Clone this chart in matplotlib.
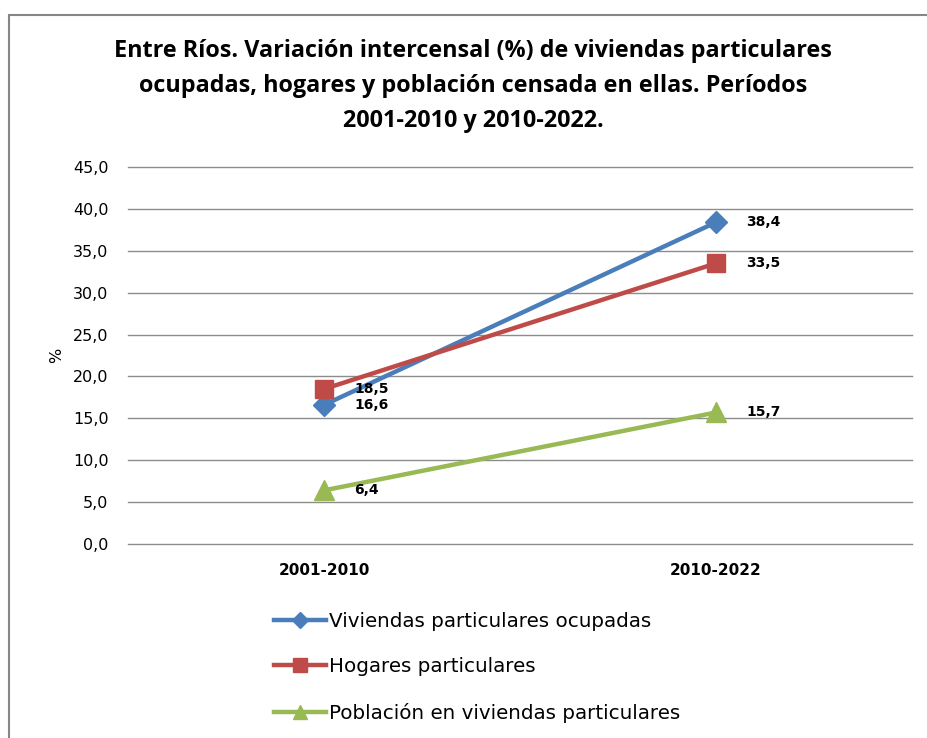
import matplotlib.pyplot as plt
from matplotlib.patches import Rectangle

# data
periods = ["2001-2010", "2010-2022"]
viviendas = [16.6, 38.4]
hogares = [18.5, 33.5]
poblacion = [6.4, 15.7]
series_names = ["Viviendas particulares ocupadas", "Hogares particulares",
                "Población en viviendas particulares"]
y_ticks = [0, 5, 10, 15, 20, 25, 30, 35, 40, 45]

colors = ["#4A7EBB", "#BE4B48", "#98B954"]
markers = ["D", "s", "^"]
msizes = [11, 13, 14]

fig = plt.figure(figsize=(9.28, 7.38), dpi=100)
fig.patches.append(Rectangle((9 / 928, -0.1), 1.0, 1.1 - 15 / 738, transform=fig.transFigure,
                             fill=False, edgecolor="#868686", linewidth=1.5))

ax = fig.add_axes([128 / 928, 1 - 544 / 738, 784 / 928, 377 / 738])
x = [0, 1]
for vals, name, c, m, ms in zip([viviendas, hogares, poblacion], series_names, colors, markers, msizes):
    ax.plot(x, vals, color=c, lw=3.2, marker=m, ms=ms, label=name, zorder=3)
    for xi, v in zip(x, vals):
        ax.annotate(f"{v:.1f}".replace(".", ","), (xi, v), xytext=(22, 0), textcoords="offset points",
                    va="center", ha="left", fontsize=10, fontweight="bold", family="DejaVu Sans")

ax.set_xlim(-0.5, 1.5)
ax.set_ylim(0, 45)
ax.set_yticks(y_ticks)
ax.set_yticklabels([f"{t:.1f}".replace(".", ",") for t in y_ticks], fontsize=11.5)
ax.set_xticks(x)
ax.set_xticklabels(periods, fontsize=11, fontweight="bold")
ax.grid(axis="y", color="#8C8C8C", lw=1)
for gl in ax.get_ygridlines():
    gl.set_clip_on(False)
ax.tick_params(axis="y", length=0, pad=14)
ax.tick_params(axis="x", length=0, pad=14)
for s in ax.spines.values():
    s.set_visible(False)
ax.set_ylabel("%", fontsize=11.5, labelpad=6)

fig.text(0.51, 1 - 86 / 738,
         "Entre Ríos. Variación intercensal (%) de viviendas particulares\n"
         "ocupadas, hogares y población censada en ellas. Períodos\n"
         "2001-2010 y 2010-2022.",
         ha="center", va="center", fontsize=16.8, fontweight="bold", linespacing=1.6,
         family="Open Sans")

fig.legend(loc="upper left", bbox_to_anchor=(266 / 928, 1 - 604 / 738), frameon=False,
           fontsize=14.3, handlelength=2.6, handletextpad=0.15, labelspacing=1.33, borderaxespad=0,
           markerscale=0.75)

fig.savefig("out.png", dpi=100)
